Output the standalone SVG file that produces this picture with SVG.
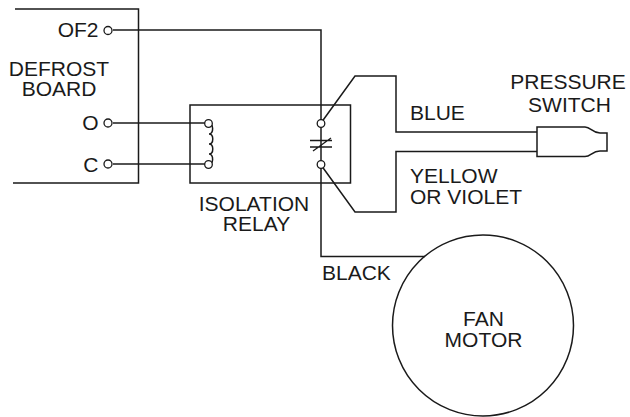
<svg xmlns="http://www.w3.org/2000/svg" width="630" height="417" viewBox="0 0 630 417">
<style>
.l{fill:none;stroke:#1a1a1a;stroke-width:1.5}
.t{fill:none;stroke:#1a1a1a;stroke-width:1.3}
.p{fill:#fff;stroke:#1a1a1a;stroke-width:1.3}
text{font-family:"Liberation Sans",Arial,sans-serif;font-size:21px;fill:#1a1a1a;text-anchor:middle}
.r{text-anchor:end}
.s{text-anchor:start}
</style>
<rect width="630" height="417" fill="#fff"/>
<g id="connectors">
<path class="l" d="M113 30H321V256.500H425"/>
<path class="l" d="M113 123H208"/>
<path class="l" d="M113 164H208"/>
<path class="l" d="M321 123L355 76H396V132H537"/>
<path class="l" d="M321 165L355 212H396V151.500H537"/>
<path class="t" d="M310 140.500H332M310 147H332M313 151L331 138"/>
</g>
<g id="defrost-board">
<path class="l" d="M15 9H138.500V183H13"/>
<circle class="p" cx="108" cy="30.500" r="4"/>
<circle class="p" cx="108" cy="123" r="4"/>
<circle class="p" cx="108" cy="164" r="4"/>
<text class="r" x="98.500" y="37">OF2</text>
<text x="59" y="75.500">DEFROST</text>
<text x="59" y="96">BOARD</text>
<text class="r" x="98.500" y="129.500">O</text>
<text class="r" x="98.500" y="171.500">C</text>
</g>
<g id="isolation-relay">
<rect class="l" x="190" y="105" width="160.500" height="78"/>
<path class="l" d="M208 123C214 123 214 134 209 134C214 134 214 144 209 144C214 144 214 154 209 154C214 154 214 165 208 165"/>
<circle class="p" cx="208.500" cy="123.500" r="3.800"/>
<circle class="p" cx="208.500" cy="164.500" r="3.800"/>
<circle class="p" cx="321" cy="123.500" r="3.800"/>
<circle class="p" cx="321" cy="164.500" r="3.800"/>
<text x="254" y="211">ISOLATION</text>
<text x="256.500" y="231">RELAY</text>
</g>
<g id="pressure-switch">
<path class="l" d="M537 127H585C591 127 592 133 600 133H607V151H600C592 151 591 156.500 585 156.500H537Z" fill="#fff"/>
<text x="568" y="89">PRESSURE</text>
<text x="569.500" y="111.500">SWITCH</text>
</g>
<g id="fan-motor">
<circle class="l" cx="483" cy="325.500" r="90.500"/>
<text x="483.500" y="325.500">FAN</text>
<text x="483.500" y="346.500">MOTOR</text>
</g>
<g id="wire-labels">
<text class="s" x="410" y="119.500">BLUE</text>
<text class="s" x="410" y="182.500">YELLOW</text>
<text class="s" x="410" y="203.500">OR VIOLET</text>
<text class="s" x="322" y="280">BLACK</text>
</g>
</svg>
